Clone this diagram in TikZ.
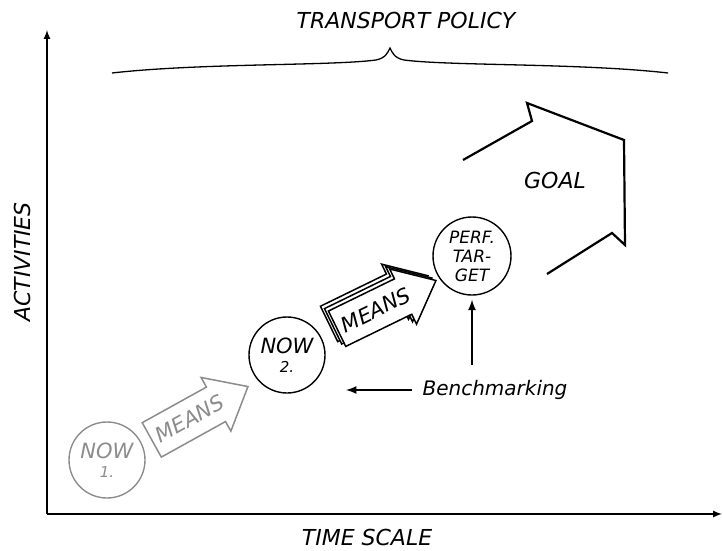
\documentclass[tikz,border=0pt]{standalone}
\usepackage{fontspec}
\setmainfont{DejaVu Sans}
\usetikzlibrary{shapes.arrows,positioning}
\definecolor{grisclair}{gray}{0.55}
\begin{document}
\begin{tikzpicture}[x=1pt,y=-1pt]
% Styles
\tikzstyle{axe}=[->,>=latex,line width=2pt]
\tikzstyle{fleche}=[->,>=latex,line width=2.5pt]
\tikzstyle{titre}=[inner sep=1pt,font=\itshape\fontsize{22}{22}\selectfont]
\tikzstyle{etape}=[circle,draw,line width=1.4pt,minimum size=76pt,inner sep=0pt,align=center,font=\itshape\fontsize{21}{19}\selectfont]
\tikzstyle{moyen}=[single arrow,draw,fill=white,line width=1.5pt,single arrow head extend=11pt,single arrow tip angle=80,inner xsep=2pt,inner ysep=11pt,minimum height=110pt,anchor=tip,font=\itshape\fontsize{21}{21}\selectfont]
\useasboundingbox (0,0) rectangle (723,551);
% Axes
\coordinate (origine) at (47,514);
\coordinate (haut) at (47,30);
\coordinate (droite) at (722,514);
\draw[axe] (origine) -- (haut);
\draw[axe] (origine) -- (droite);
\node[titre,rotate=90] (activites) at (22,262) {ACTIVITIES};
\node[titre] (temps) at (367,537) {TIME SCALE};
% Politique de transport
\node[titre] (politique) at (406,20) {TRANSPORT POLICY};
\draw[line width=1.3pt] (112,73) .. controls (200,63) and (330,66) .. (376,60) .. controls (386,58) and (388,52) .. (390,48) .. controls (392,52) and (394,58) .. (404,60) .. controls (450,66) and (580,63) .. (668,73);
% Etapes
\node[etape,draw=grisclair,text=grisclair] (now1) at (107,460) {NOW\\{\fontsize{15}{15}\selectfont 1.}};
\node[etape] (now2) at (287,355) {NOW\\{\fontsize{15}{15}\selectfont 2.}};
\node[etape,minimum size=78pt,font=\itshape\fontsize{17}{19}\selectfont] (perf) at (472,256) {PERF.\\TAR-\\GET};
% Moyens
\node[moyen,draw=grisclair,text=grisclair,rotate=29] (moyen1) at (249,386) {MEANS};
\foreach \d in {8,4}
  \node[moyen,rotate=26] at ({437-\d},{280-0.6*\d}) {\phantom{MEANS}};
\node[moyen,rotate=26] (moyen2) at (437,280) {MEANS};
% Objectif
\draw[line width=2.2pt] (463,160) -- (532,121) -- (527,103) -- (624,140) -- (625,245) -- (612,233) -- (547,274);
\node[titre] (but) at (555,180) {GOAL};
% Benchmarking
\node[titre,font=\itshape\fontsize{20}{20}\selectfont] (bench) at (495,390) {Benchmarking};
\coordinate (cible) at (346,390);
\draw[fleche] ([xshift=-9pt]bench.west) -- (cible);
\draw[fleche,shorten <=14pt,shorten >=4pt] (bench.north -| perf.south) -- (perf.south);
\end{tikzpicture}
\end{document}
